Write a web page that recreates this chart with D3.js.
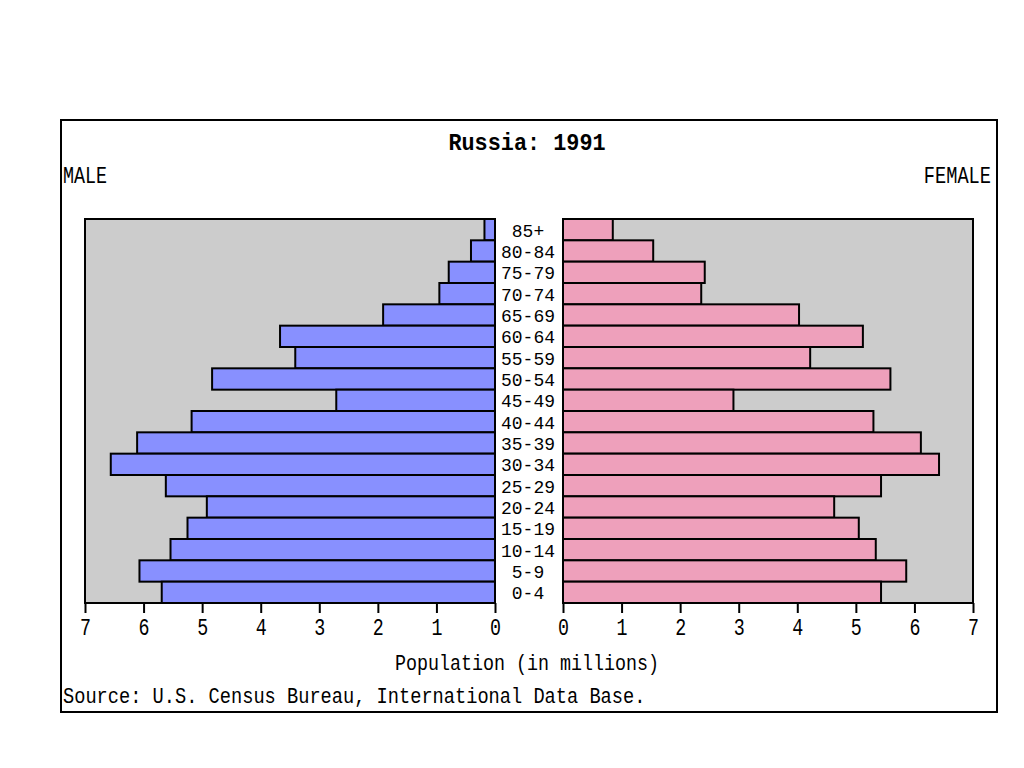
<!DOCTYPE html>
<html>
<head>
<meta charset="utf-8">
<script src="https://cdn.jsdelivr.net/npm/d3@7"></script>
<style>
  html, body { margin: 0; padding: 0; background: #fff; }
  svg text { font-family: "Liberation Mono", "DejaVu Sans Mono", monospace; fill: #000; }
</style>
</head>
<body>
<svg id="chart" width="1024" height="768"></svg>
<script>
const ageGroups = ["85+","80-84","75-79","70-74","65-69","60-64","55-59","50-54","45-49","40-44","35-39","30-34","25-29","20-24","15-19","10-14","5-9","0-4"];
const maleValues = [0.18,0.41,0.79,0.95,1.91,3.67,3.41,4.83,2.71,5.18,6.11,6.56,5.62,4.92,5.25,5.54,6.07,5.69];
const femaleValues = [0.85,1.54,2.42,2.36,4.03,5.12,4.22,5.59,2.91,5.30,6.11,6.42,5.43,4.63,5.05,5.34,5.86,5.43];
const tickValues = [0,1,2,3,4,5,6,7];
const titleText = "Russia: 1991";
const axisTitle = "Population (in millions)";
const sourceText = "Source: U.S. Census Bureau, International Data Base.";

const svg = d3.select("#chart");

function fitText(sel, charW) {
  sel.each(function() {
    const t = d3.select(this);
    const n = t.text().length;
    t.attr("textLength", n * charW).attr("lengthAdjust", "spacingAndGlyphs");
  });
}

// outer frame
svg.append("rect").attr("x", 61).attr("y", 120).attr("width", 936).attr("height", 592)
  .attr("fill", "#fff").attr("stroke", "#000").attr("stroke-width", 2);

const plotTop = 219, plotBottom = 603;
const y = d3.scaleBand().domain(ageGroups).range([plotTop, plotBottom]).padding(0);
const xL = d3.scaleLinear().domain([7, 0]).range([85, 495]);
const xR = d3.scaleLinear().domain([0, 7]).range([563, 973]);

// backgrounds
svg.append("rect").attr("x", xL(7)).attr("y", plotTop).attr("width", xL(0) - xL(7)).attr("height", plotBottom - plotTop)
  .attr("fill", "#cccccc").attr("stroke", "#000").attr("stroke-width", 2);
svg.append("rect").attr("x", xR(0)).attr("y", plotTop).attr("width", xR(7) - xR(0)).attr("height", plotBottom - plotTop)
  .attr("fill", "#cccccc").attr("stroke", "#000").attr("stroke-width", 2);

// bars
svg.append("g").selectAll("rect").data(ageGroups).join("rect")
  .attr("x", (d, i) => xL(maleValues[i]))
  .attr("y", d => y(d))
  .attr("width", (d, i) => xL(0) - xL(maleValues[i]))
  .attr("height", y.bandwidth())
  .attr("fill", "#8890ff").attr("stroke", "#000").attr("stroke-width", 2);

svg.append("g").selectAll("rect").data(ageGroups).join("rect")
  .attr("x", xR(0))
  .attr("y", d => y(d))
  .attr("width", (d, i) => xR(femaleValues[i]) - xR(0))
  .attr("height", y.bandwidth())
  .attr("fill", "#eea0bb").attr("stroke", "#000").attr("stroke-width", 2);

// age labels
const ageLab = svg.append("g").selectAll("text").data(ageGroups).join("text")
  .attr("x", 528).attr("y", d => y(d) + y.bandwidth() / 2 + 7)
  .attr("text-anchor", "middle").style("font-size", "18.5px")
  .text(d => d);
fitText(ageLab, 10.8);

// axes
const axL = d3.axisBottom(xL).tickValues(tickValues).tickSize(10).tickPadding(6).tickFormat(d3.format("d"));
const axR = d3.axisBottom(xR).tickValues(tickValues).tickSize(10).tickPadding(6).tickFormat(d3.format("d"));
[axL, axR].forEach(ax => {
  const g = svg.append("g").attr("transform", `translate(0,${plotBottom})`).call(ax);
  g.select(".domain").remove();
  g.selectAll(".tick line").attr("stroke", "#000").attr("stroke-width", 2);
  g.selectAll(".tick text").style("font-size", "23px").attr("fill", "#000")
    .style("font-family", "Liberation Mono, DejaVu Sans Mono, monospace");
  fitText(g.selectAll(".tick text"), 11);
});

// title
const tt = svg.append("text").attr("x", 527).attr("y", 150).attr("text-anchor", "middle")
  .style("font-size", "24px").attr("font-weight", "bold").text(titleText);
fitText(tt, 13.1);

const ml = svg.append("text").attr("x", 63).attr("y", 183).style("font-size", "23px").text("MALE");
fitText(ml, 11);
const fl = svg.append("text").attr("x", 991).attr("y", 183).attr("text-anchor", "end").style("font-size", "23px").text("FEMALE");
fitText(fl, 11.2);

const at = svg.append("text").attr("x", 527).attr("y", 670).attr("text-anchor", "middle")
  .style("font-size", "22px").text(axisTitle);
fitText(at, 11);

const st = svg.append("text").attr("x", 63).attr("y", 703).style("font-size", "22px").text(sourceText);
fitText(st, 11.2);
</script>
</body>
</html>
